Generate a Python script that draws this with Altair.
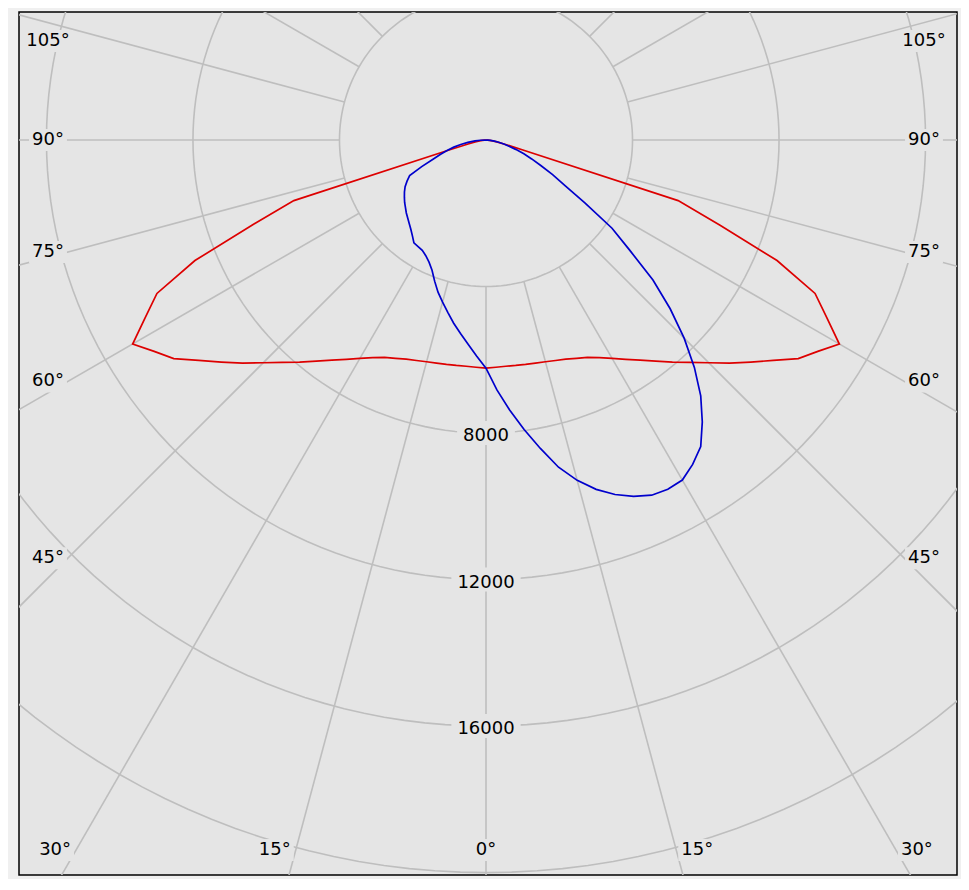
import altair as alt
import numpy as np
import pandas as pd

# ---------------- data ----------------
gamma = [0, 2.5, 5, 7.5, 10, 12.5, 15, 17.5, 20, 22.5, 25, 27.5, 30, 32.5, 35, 37.5,
         40, 42.5, 45, 47.5, 50, 52.5, 55, 57.5, 60, 62.5, 65, 67.5, 70, 72.5, 75,
         77.5, 80, 82.5, 85, 87.5, 90]

# C0 / C180 plane (red, symmetric)
red_c0 = [6230, 6210, 6200, 6208, 6220, 6237, 6268, 6311, 6367, 6450, 6550, 6700,
          6887, 7100, 7337, 7611, 7918, 8237, 8600, 9015, 9431, 9886, 10407, 10740,
          11139, 10485, 9912, 8600, 6800, 5500, 1000, 500, 300, 180, 100, 40, 0]

# C90 plane (blue, right side)
blue_c90 = [6230, 6830, 7400, 7970, 8550, 9150, 9620, 10000, 10300, 10530, 10700,
            10750, 10720, 10500, 10220, 9700, 9120, 8420, 7650, 6820, 5950, 4950,
            4200, 3200, 2500, 2050, 1650, 1350, 1100, 850, 650, 500, 350, 230, 120, 50, 0]

# C270 plane (blue, left side)
blue_c270 = [6230, 5900, 5600, 5330, 5080, 4820, 4580, 4355, 4100, 3850, 3680, 3560,
             3480, 3450, 3430, 3300, 3190, 3100, 3020, 2950, 2870, 2800, 2720, 2640,
             2550, 2430, 2300, 1900, 1550, 1300, 1100, 900, 700, 500, 300, 150, 0]

ring_values = [4000, 8000, 12000, 16000, 20000, 24000]
ring_labels = [8000, 12000, 16000]
angle_ticks = [0, 15, 30, 45, 60, 75, 90, 105]

# ---------------- layout / style ----------------
K = 27.3                # data units per pixel
W, H = 938, 863         # plot area
CX, CY = 467, 128       # polar centre inside plot (px)
xdom = [-CX * K, (W - CX) * K]
ydom = [-(H - CY) * K, CY * K]
BG = "#e5e5e5"
GRID = "#bebebe"
FONT = "DejaVu Sans"
FS = 18

xs = alt.Scale(domain=xdom, nice=False, zero=False)
ys = alt.Scale(domain=ydom, nice=False, zero=False)
X = lambda f: alt.X(f, type="quantitative", scale=xs, axis=None)
Y = lambda f: alt.Y(f, type="quantitative", scale=ys, axis=None)

# ---------------- tables ----------------
rows = []
for series, left, right in [("C0-C180", red_c0, red_c0), ("C90-C270", blue_c270, blue_c90)]:
    o = 0
    for g, v in zip(reversed(gamma), reversed(left)):
        rows.append(dict(series=series, g=-g, I=v, o=o)); o += 1
    for g, v in zip(gamma[1:], right[1:]):
        rows.append(dict(series=series, g=g, I=v, o=o)); o += 1
curves = pd.DataFrame(rows)

circ = pd.DataFrame([dict(r=r, t=t) for r in ring_values for t in np.arange(0, 361, 2)])
spokes = pd.DataFrame(dict(a=np.arange(-180, 181, 15)))


def text_w(s):
    return sum(9.0 if c == "°" else 11.45 for c in s)


# radius labels with background boxes
rl = pd.DataFrame(dict(v=ring_labels))
rl["txt"] = rl["v"].astype(str)
rl["x"] = 0.0
rl["y"] = -rl["v"].astype(float)
rl["x1"] = -(rl["txt"].map(text_w) / 2 + 6) * K
rl["x2"] = -rl["x1"]
rl["y1"] = rl["y"] - 12 * K
rl["y2"] = rl["y"] + 12 * K

# angle labels positioned along their spokes near the frame
al_rows = []
for a in angle_ticks:
    for side in ([1] if a == 0 else [-1, 1]):
        t = np.radians(a)
        if a < 40:
            px = 710 * np.tan(t) + (21 if a > 0 else 0)
            py = 710
        else:
            px = 438
            py = max(0.955 * 438 * np.cos(t) / np.sin(t), -99)
        txt = f"{a}°"
        hw = text_w(txt) / 2 + 3
        al_rows.append(dict(txt=txt, x=side * px * K, y=-py * K,
                            x1=(side * px - hw) * K, x2=(side * px + hw) * K,
                            y1=(-py - 11) * K, y2=(-py + 11) * K))
al = pd.DataFrame(al_rows)

# ---------------- layers ----------------
rings = alt.Chart(circ).mark_line(color=GRID, strokeWidth=1.6, clip=True).transform_calculate(
    x="datum.r*sin(datum.t*PI/180)", y="-datum.r*cos(datum.t*PI/180)"
).encode(x=X("x"), y=Y("y"), detail="r:N", order="t:Q")

spk = alt.Chart(spokes).mark_rule(color=GRID, strokeWidth=1.6, clip=True).transform_calculate(
    x="4000*sin(datum.a*PI/180)", y="-4000*cos(datum.a*PI/180)",
    x2="40000*sin(datum.a*PI/180)", y2="-40000*cos(datum.a*PI/180)"
).encode(x=X("x"), y=Y("y"), x2="x2:Q", y2="y2:Q")

boxes = alt.Chart(pd.concat([rl[["x1", "x2", "y1", "y2"]], al[["x1", "x2", "y1", "y2"]]])).mark_rect(
    color=BG, clip=True).encode(x=X("x1"), x2="x2:Q", y=Y("y1"), y2="y2:Q")

rtext = alt.Chart(rl).mark_text(font=FONT, fontSize=FS, color="#000", baseline="middle",
                                align="center", dy=3).encode(x=X("x"), y=Y("y"), text="txt:N")
atext = alt.Chart(al).mark_text(font=FONT, fontSize=FS, color="#000", baseline="middle",
                                align="center").encode(x=X("x"), y=Y("y"), text="txt:N")

lines = alt.Chart(curves).mark_line(strokeWidth=1.7, clip=True).transform_calculate(
    x="datum.I*sin(datum.g*PI/180)", y="-datum.I*cos(datum.g*PI/180)"
).encode(
    x=X("x"), y=Y("y"), order="o:Q",
    color=alt.Color("series:N", scale=alt.Scale(domain=["C0-C180", "C90-C270"],
                                                range=["#dd0000", "#0000cc"]), legend=None),
)

chart = alt.layer(rings, spk, boxes, rtext, atext, lines).properties(
    width=W, height=H,
    padding={"left": 11, "top": 4, "right": 4, "bottom": 4},
    background="#f0f0f0",
).configure_view(fill=BG, stroke="#000000", strokeWidth=1.5)

chart.save("out.html", embed_options={"renderer": "svg", "actions": False})
